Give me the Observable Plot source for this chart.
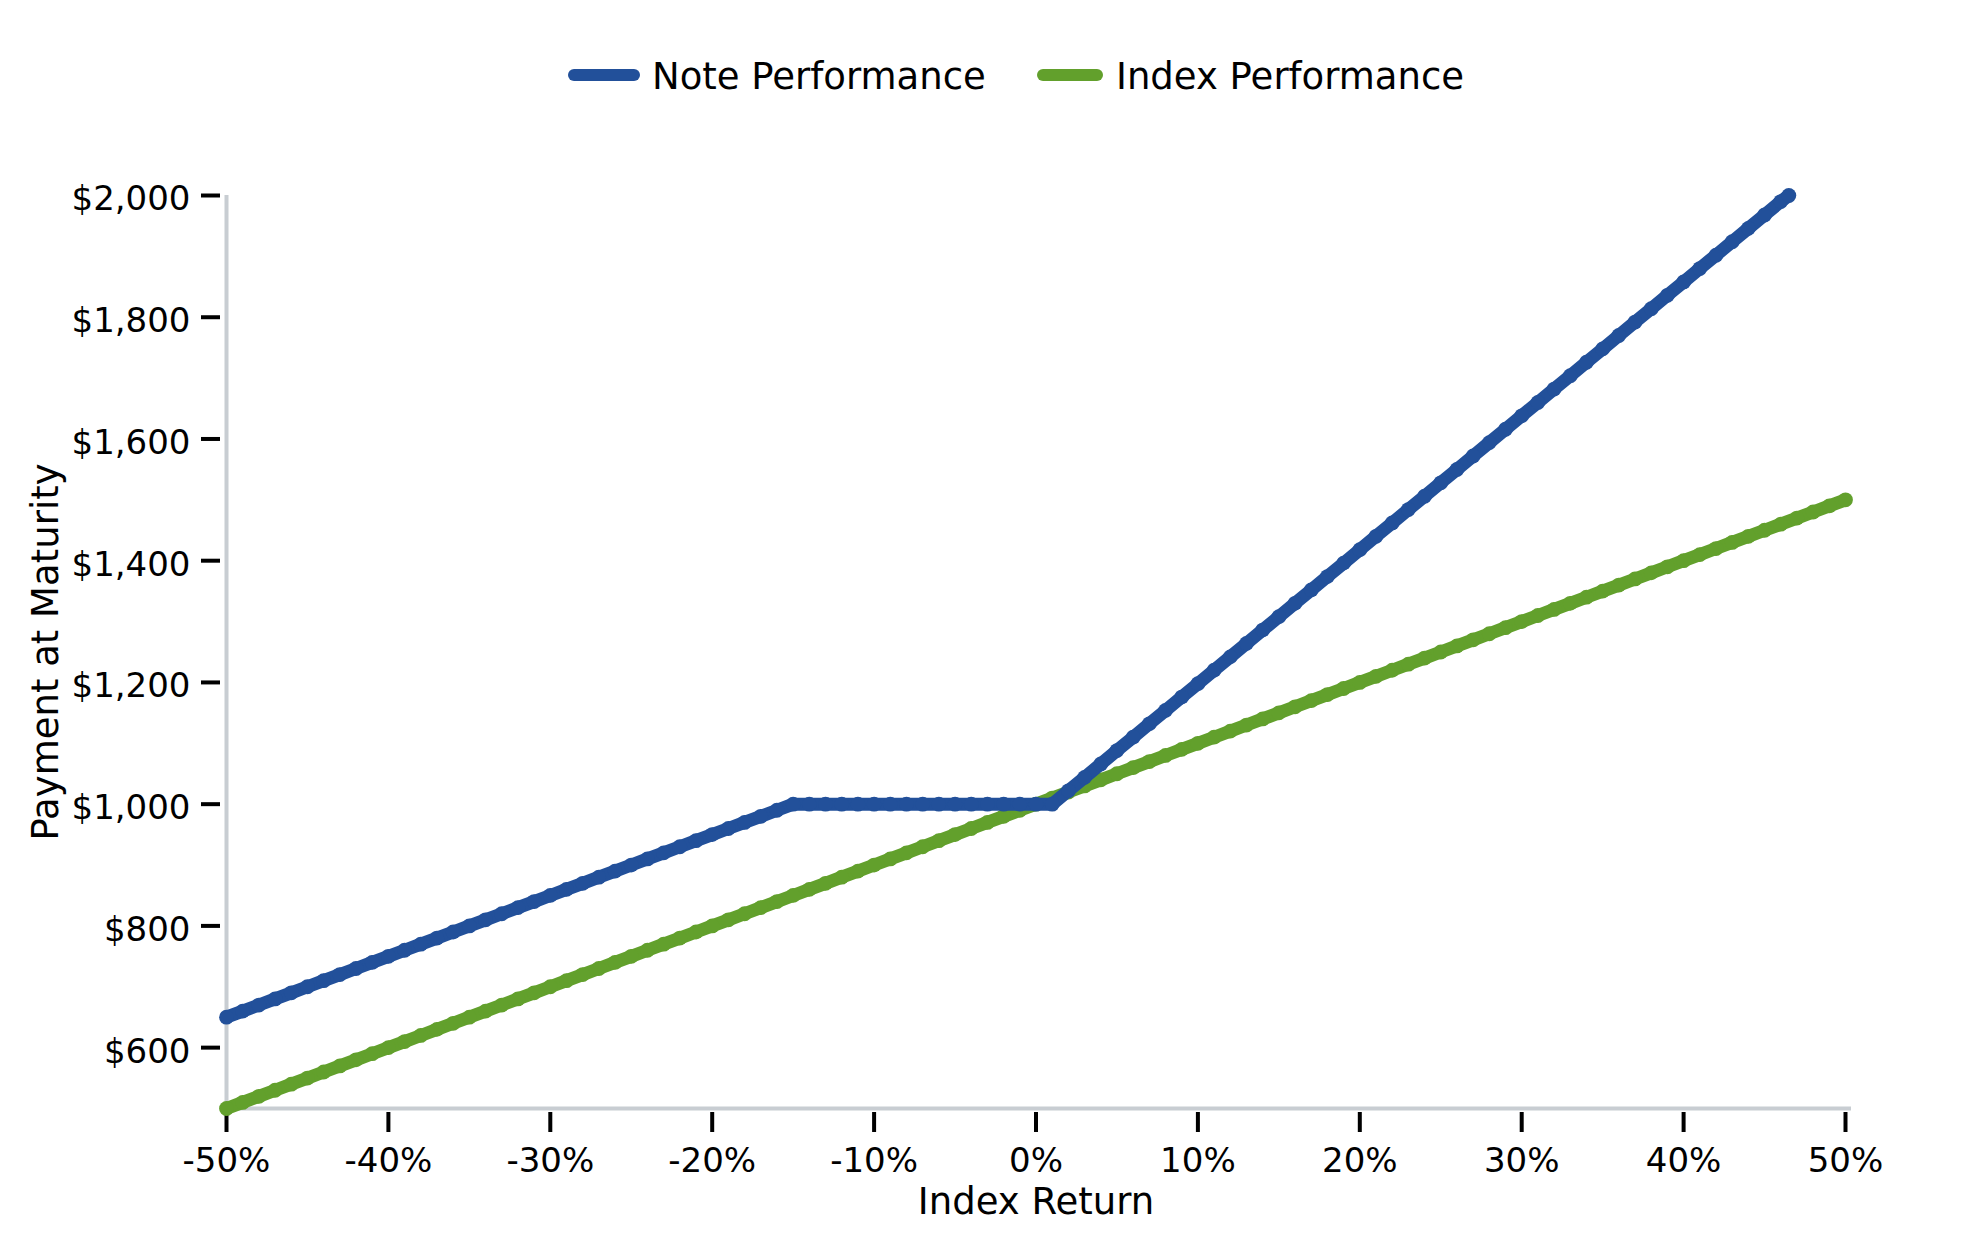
<!DOCTYPE html>
<html>
<head>
<meta charset="utf-8">
<script src="https://cdn.jsdelivr.net/npm/d3@7"></script>
<script src="https://cdn.jsdelivr.net/npm/@observablehq/plot@0.6"></script>
<style>
  html, body { margin: 0; padding: 0; background: #ffffff; }
  body { font-family: "DejaVu Sans", sans-serif; color: #000; }
  #wrap { width: 1979px; }
  #legend { position: relative; width: 1979px; height: 150px; }
  .sw { position: absolute; height: 12px; border-radius: 6px; top: 69px; }
  .lt { position: absolute; top: 55px; font-size: 37px; line-height: 44px; white-space: nowrap; }
</style>
</head>
<body>
<div id="wrap">
  <div id="legend"></div>
  <div id="chart"></div>
</div>
<script>
// ---- data ----
const seriesNames = ["Note Performance", "Index Performance"];
const seriesColors = ["#22509a", "#62a02c"];

const indexReturn = [-50,-49,-48,-47,-46,-45,-44,-43,-42,-41,-40,-39,-38,-37,-36,-35,-34,-33,-32,-31,-30,-29,-28,-27,-26,-25,-24,-23,-22,-21,-20,-19,-18,-17,-16,-15,-14,-13,-12,-11,-10,-9,-8,-7,-6,-5,-4,-3,-2,-1,0,1,2,3,4,5,6,7,8,9,10,11,12,13,14,15,16,17,18,19,20,21,22,23,24,25,26,27,28,29,30,31,32,33,34,35,36,37,38,39,40,41,42,43,44,45,46,47,48,49,50];
const indexValues = [500,510,520,530,540,550,560,570,580,590,600,610,620,630,640,650,660,670,680,690,700,710,720,730,740,750,760,770,780,790,800,810,820,830,840,850,860,870,880,890,900,910,920,930,940,950,960,970,980,990,1000,1010,1020,1030,1040,1050,1060,1070,1080,1090,1100,1110,1120,1130,1140,1150,1160,1170,1180,1190,1200,1210,1220,1230,1240,1250,1260,1270,1280,1290,1300,1310,1320,1330,1340,1350,1360,1370,1380,1390,1400,1410,1420,1430,1440,1450,1460,1470,1480,1490,1500];

const noteReturn = [-50,-49,-48,-47,-46,-45,-44,-43,-42,-41,-40,-39,-38,-37,-36,-35,-34,-33,-32,-31,-30,-29,-28,-27,-26,-25,-24,-23,-22,-21,-20,-19,-18,-17,-16,-15,-14,-13,-12,-11,-10,-9,-8,-7,-6,-5,-4,-3,-2,-1,0,1,2,3,4,5,6,7,8,9,10,11,12,13,14,15,16,17,18,19,20,21,22,23,24,25,26,27,28,29,30,31,32,33,34,35,36,37,38,39,40,41,42,43,44,45,46,46.5];
const noteValues = [650,660,670,680,690,700,710,720,730,740,750,760,770,780,790,800,810,820,830,840,850,860,870,880,890,900,910,920,930,940,950,960,970,980,990,1000,1000,1000,1000,1000,1000,1000,1000,1000,1000,1000,1000,1000,1000,1000,1000,1000,1022,1044,1066,1088,1110,1132,1154,1176,1198,1220,1242,1264,1286,1308,1330,1352,1374,1396,1418,1440,1462,1484,1506,1528,1550,1572,1594,1616,1638,1660,1682,1704,1726,1748,1770,1792,1814,1836,1858,1880,1902,1924,1946,1968,1990,2000];

const xTicks = [-50,-40,-30,-20,-10,0,10,20,30,40,50];
const yTicks = [600,800,1000,1200,1400,1600,1800,2000];
const xLabel = "Index Return";
const yLabel = "Payment at Maturity";

// ---- build tables ----
const noteData = noteReturn.map((r, i) => ({r, v: noteValues[i]}));
const indexData = indexReturn.map((r, i) => ({r, v: indexValues[i]}));

// ---- legend (HTML, above the svg) ----
const legend = document.getElementById("legend");
const legendPos = [{sw: 568, w: 72, t: 652}, {sw: 1037, w: 66, t: 1116}];
seriesNames.forEach((name, i) => {
  const s = document.createElement("div");
  s.className = "sw";
  s.style.left = legendPos[i].sw + "px";
  s.style.width = legendPos[i].w + "px";
  s.style.background = seriesColors[i];
  legend.appendChild(s);
  const t = document.createElement("div");
  t.className = "lt";
  t.style.left = legendPos[i].t + "px";
  t.textContent = name;
  legend.appendChild(t);
});

const axisGray = "#c8cdd2";

const chart = Plot.plot({
  width: 1979,
  height: 1100,
  marginLeft: 226,
  marginRight: 134,
  marginTop: 45,
  marginBottom: 142,
  style: {fontFamily: "DejaVu Sans", fontSize: "34px", color: "#000", background: "#fff", overflow: "visible"},
  x: {domain: [-50, 50]},
  y: {domain: [500, 2000]},
  marks: [
    Plot.ruleX([-50], {stroke: axisGray, strokeWidth: 4}),
    Plot.ruleY([500], {stroke: axisGray, strokeWidth: 4, insetRight: -6}),
    // y ticks only
    Plot.axisY({ticks: yTicks, tickSize: 19, dx: -6, strokeWidth: 4, fill: "none", label: null}),
    // y tick labels only (sit slightly below their ticks, as in the reference)
    Plot.axisY({ticks: yTicks, tickFormat: d3.format("$,"), tickSize: 19, tickPadding: 11, dx: -6, dy: 4, stroke: "none", fontSize: 34, label: null}),
    Plot.axisX({ticks: xTicks, tickFormat: d => `${d}%`, tickSize: 20, tickPadding: 15, dy: 4, strokeWidth: 4, fontSize: 34, label: null}),
    Plot.text([xLabel], {frameAnchor: "bottom", lineAnchor: "middle", textAnchor: "middle", dy: 94, fontSize: 37, fill: "#000"}),
    Plot.text([yLabel], {frameAnchor: "left", textAnchor: "middle", lineAnchor: "middle", dx: -180, rotate: -90, fontSize: 37, fill: "#000"}),
    Plot.line(indexData, {x: "r", y: "v", stroke: seriesColors[1], strokeWidth: 13, strokeLinejoin: "round", strokeLinecap: "round"}),
    Plot.dot(indexData, {x: "r", y: "v", r: 7.4, fill: seriesColors[1], stroke: "none"}),
    Plot.line(noteData, {x: "r", y: "v", stroke: seriesColors[0], strokeWidth: 13, strokeLinejoin: "round", strokeLinecap: "round"}),
    Plot.dot(noteData, {x: "r", y: "v", r: 7.4, fill: seriesColors[0], stroke: "none"})
  ]
});
document.getElementById("chart").appendChild(chart);
</script>
</body>
</html>
